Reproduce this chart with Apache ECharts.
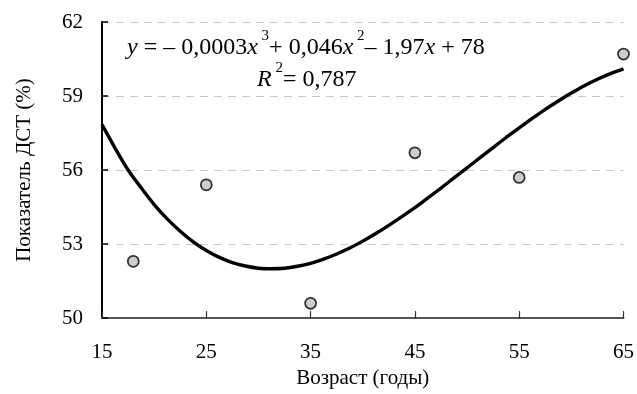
<!DOCTYPE html>
<html>
<head>
<meta charset="utf-8">
<script src="https://cdn.jsdelivr.net/npm/echarts@6/dist/echarts.min.js"></script>
<style>html,body{margin:0;padding:0;background:#fff}#c{width:637px;height:394px}</style>
</head>
<body>
<div id="c"></div>
<script>
// Observed data points (age, DST %)
const ages = [18, 25, 35, 45, 55, 65];
const dst = [52.3, 55.4, 50.6, 56.7, 55.7, 60.7];
// Trend curve, every 1.25 years
const curveX = [15, 16.25, 17.5, 18.75, 20, 21.25, 22.5, 23.75, 25, 26.25, 27.5, 28.75, 30, 31.25, 32.5, 33.75, 35, 36.25, 37.5, 38.75, 40,
  41.25, 42.5, 43.75, 45, 46.25, 47.5, 48.75, 50, 51.25, 52.5, 53.75, 55, 56.25, 57.5, 58.75, 60, 61.25, 62.5, 63.75, 65];
const curveY = [57.84, 56.89, 56.0, 55.28, 54.6, 54.02, 53.52, 53.09, 52.74, 52.46, 52.25, 52.11, 52.02, 52.0, 52.02, 52.1, 52.22, 52.39, 52.6, 52.84, 53.12,
  53.43, 53.76, 54.11, 54.48, 54.87, 55.27, 55.68, 56.09, 56.5, 56.91, 57.32, 57.71, 58.09, 58.46, 58.8, 59.12, 59.42, 59.68, 59.91, 60.1];
const xTicks = [15, 25, 35, 45, 55, 65];
const yTicks = [50, 53, 56, 59, 62];

const font = '"Liberation Serif", "Times New Roman", serif';
const chart = echarts.init(document.getElementById('c'), null, {renderer: 'canvas'});
const richStyles = {
  i: {fontFamily: font, fontSize: 24, fontStyle: 'italic', fill: '#000'},
  n: {fontFamily: font, fontSize: 24, fill: '#000'},
  s: {fontFamily: font, fontSize: 15, fill: '#000', padding: [0, 0, 22, 0]}
};
chart.setOption({
  animation: false,
  backgroundColor: '#fff',
  grid: {left: 102, right: 13, top: 22, bottom: 75},
  xAxis: {
    type: 'value', min: xTicks[0], max: xTicks[xTicks.length - 1], interval: 10,
    name: 'Возраст (годы)', nameLocation: 'middle', nameGap: 46,
    nameTextStyle: {fontFamily: font, fontSize: 21, color: '#000'},
    axisLine: {lineStyle: {color: '#555', width: 2}},
    axisTick: {inside: true, length: 7, lineStyle: {color: '#333', width: 1.2}},
    axisLabel: {fontFamily: font, fontSize: 21, color: '#000', margin: 24},
    splitLine: {show: false}
  },
  yAxis: {
    type: 'value', min: yTicks[0], max: yTicks[yTicks.length - 1], interval: 3,
    name: 'Показатель ДСТ (%)', nameLocation: 'middle', nameGap: 67,
    nameTextStyle: {fontFamily: font, fontSize: 21, color: '#000'},
    axisLine: {lineStyle: {color: '#000', width: 2}},
    axisTick: {inside: true, length: 6, lineStyle: {color: '#000', width: 1.5}},
    axisLabel: {fontFamily: font, fontSize: 21, color: '#000', margin: 19},
    splitLine: {show: true, lineStyle: {color: '#c8c8c8', type: [8, 6], width: 1}}
  },
  series: [
    {
      type: 'line', data: curveX.map((x, i) => [x, curveY[i]]),
      smooth: 0.2, showSymbol: false, symbol: 'none',
      lineStyle: {color: '#000', width: 3.4}, z: 2
    },
    {
      type: 'scatter', data: ages.map((x, i) => [x, dst[i]]),
      symbol: 'circle', symbolSize: 11,
      itemStyle: {color: '#c0c0c0', borderColor: '#000', borderWidth: 1.7}, z: 3
    }
  ],
  graphic: [
    {
      type: 'text', left: 127, top: 29,
      style: {
        rich: richStyles,
        text: '{i|y}{n| = – 0,0003}{i|x}{s| 3}{n|+ 0,046}{i|x}{s| 2}{n|– 1,97}{i|x}{n| + 78}'
      }
    },
    {
      type: 'text', left: 257, top: 61,
      style: {
        rich: richStyles,
        text: '{i|R}{s| 2}{n|= 0,787}'
      }
    }
  ]
});
</script>
</body>
</html>
